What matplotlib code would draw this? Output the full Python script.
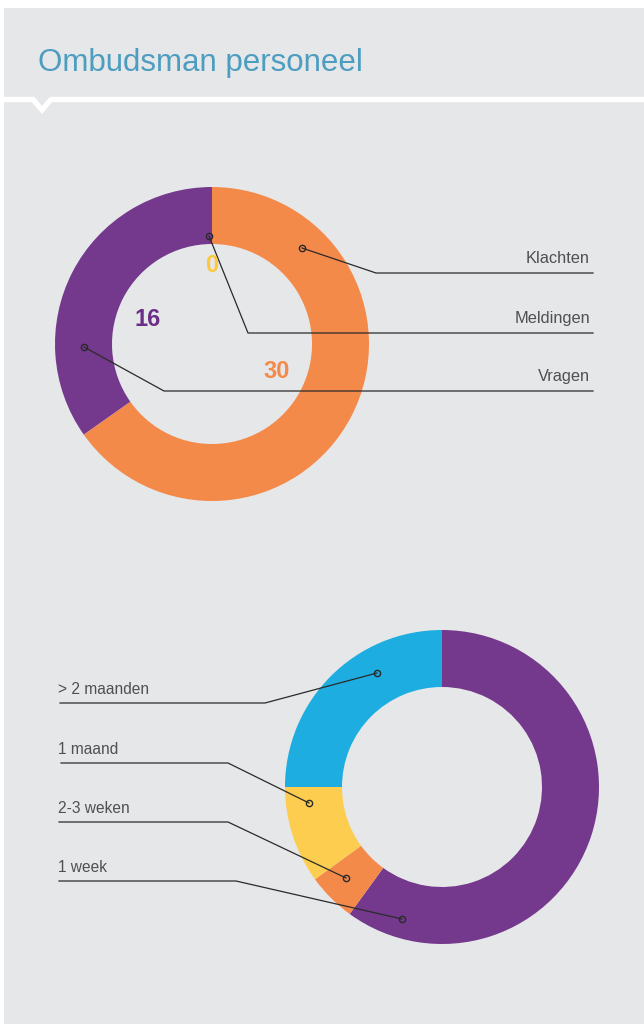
import matplotlib.pyplot as plt

# data
top_labels = ['Klachten', 'Meldingen', 'Vragen']
top_values = [30, 0, 16]
top_colors = ['#f48a4a', '#fccd4e', '#74398d']
top_num_colors = ['#f48a4a', '#fcc93c', '#6a2e86']

bottom_labels = ['1 week', '2-3 weken', '1 maand', '> 2 maanden']
bottom_values = [12, 1, 2, 5]
bottom_colors = ['#74398d', '#f48a4a', '#fccd4e', '#1dade0']

title = 'Ombudsman personeel'

W, H = 644, 1024
BG = '#e6e7e9'
LINE = '#2a2a2a'
TXT = '#505050'
FONT = ['Liberation Sans', 'DejaVu Sans']

fig = plt.figure(figsize=(W / 100, H / 100), dpi=100)
fig.patch.set_facecolor('white')

# background panel in pixel coordinates
bg = fig.add_axes([0, 0, 1, 1], zorder=0)
bg.set_xlim(0, W)
bg.set_ylim(H, 0)
bg.axis('off')
bg.add_patch(plt.Rectangle((4, 8), W - 4, H - 8, color=BG, lw=0))
bg.plot([4, 33, 42, 51, W], [99.5, 99.5, 110, 99.5, 99.5], color='white',
        lw=3.8, solid_joinstyle='miter')
bg.text(38, 71, title, color='#4d9dc1', fontsize=22.5, family=FONT,
        ha='left', va='baseline')


def donut(cx, cy, values, colors):
    R = 157
    ax = fig.add_axes([(cx - R) / W, (H - cy - R) / H, 2 * R / W, 2 * R / H], zorder=1)
    ax.pie(values, colors=colors, startangle=90, counterclock=False, radius=1,
           wedgeprops=dict(width=57 / 157, linewidth=0))
    ax.set_xlim(-1, 1)
    ax.set_ylim(-1, 1)
    ax.set_aspect('equal')
    ax.axis('off')


donut(212, 344, top_values, top_colors)
donut(442, 787, bottom_values, bottom_colors)

# annotation layer
ov = fig.add_axes([0, 0, 1, 1], zorder=2)
ov.set_xlim(0, W)
ov.set_ylim(H, 0)
ov.axis('off')
ov.patch.set_alpha(0)

# top chart leaders: dot -> elbow -> right end
top_dots = [(302, 248), (209, 236), (84, 347)]
top_elbows = [(376, 273), (248, 333), (164, 391)]
for lab, d, e in zip(top_labels, top_dots, top_elbows):
    ov.plot([d[0], e[0], 593], [d[1], e[1], e[1]], color=LINE, lw=0.9)
    ov.plot(*d, 'o', ms=4.5, mfc='none', mec=LINE, mew=1.0)
    ov.text(590, e[1] - 10, lab, color=TXT, fontsize=11.8, family=FONT,
            ha='right', va='baseline')

top_num_pos = [(277, 372), (212, 265), (148, 320)]
for v, c, p in zip(top_values, top_num_colors, top_num_pos):
    ov.text(p[0], p[1], str(v), color=c, fontsize=17, fontweight='bold',
            family=FONT, ha='center', va='center')

# bottom chart leaders: left end -> elbow -> dot
bottom_dots = [(402, 919), (346, 878), (309, 803), (377, 673)]
bottom_lines = [(59, 236, 881), (59, 228, 822), (61, 228, 763), (60, 265, 703)]
for lab, d, (x0, x1, y) in zip(bottom_labels, bottom_dots, bottom_lines):
    ov.plot([x0, x1, d[0]], [y, y, d[1]], color=LINE, lw=0.9)
    ov.plot(*d, 'o', ms=4.5, mfc='none', mec=LINE, mew=1.0)
    ov.text(58, y - 9, lab, color=TXT, fontsize=11.2, family=FONT,
            ha='left', va='baseline')

fig.savefig('out.png', dpi=100, facecolor='white')
